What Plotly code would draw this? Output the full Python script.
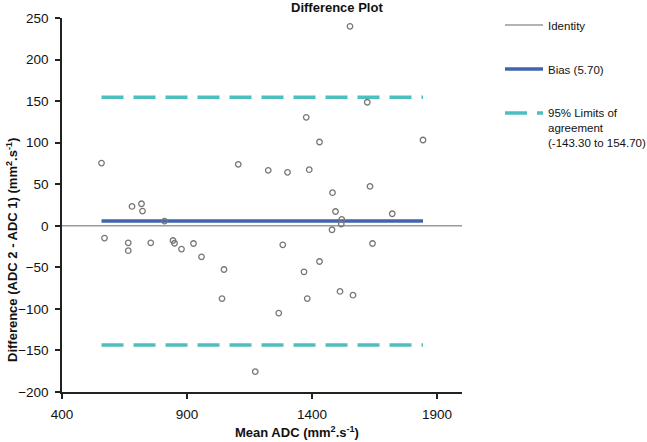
import plotly.graph_objects as go

# ---- data ----
mean_adc = [1552, 1377, 1621, 558, 570, 680, 718, 722, 665, 665, 755, 810, 844, 850,
            878, 926, 958, 1048, 1040, 1105, 1173, 1225, 1267, 1283, 1302, 1368, 1381,
            1389, 1430, 1430, 1482, 1480, 1494, 1519, 1517, 1512, 1564, 1632, 1642,
            1721, 1844]
difference = [240, 130.5, 148.6, 75.5, -14.8, 23.3, 26.5, 17.7, -20.5, -30, -20.5, 5.7,
              -17.7, -21, -28, -21.3, -37.3, -52.6, -87.6, 73.9, -175.5, 66.7, -105,
              -22.9, 64.3, -55.4, -87.6, 67.5, 100.8, -43, 39.8, -4.8, 17.2, 7.6, 2,
              -79, -83.5, 47.4, -21.3, 14.5, 103.2]
bias = 5.70
lower_loa = -143.30
upper_loa = 154.70
x_range = [400, 2000]
y_range = [-200, 250]
x_ticks = [400, 900, 1400, 1900]
y_ticks = [-200, -150, -100, -50, 0, 50, 100, 150, 200, 250]

x_lo, x_hi = min(mean_adc), max(mean_adc)

FONT = "Liberation Sans, Arial, sans-serif"

fig = go.Figure()

fig.add_trace(go.Scatter(
    x=x_range, y=[0, 0], mode="lines", name="Identity",
    line=dict(color="#9a9a9a", width=1.5), legendgroup="a"))
fig.add_trace(go.Scatter(
    x=[x_lo, x_hi], y=[bias, bias], mode="lines", name="Bias (5.70)",
    line=dict(color="#4263ad", width=3.5), legendgroup="b"))
fig.add_trace(go.Scatter(
    x=[x_lo, x_hi], y=[upper_loa, upper_loa], mode="lines",
    name="95% Limits of<br>agreement<br>(-143.30 to 154.70)",
    line=dict(color="#4cc0bf", width=3.5, dash="22px,10px"), legendgroup="c"))
fig.add_trace(go.Scatter(
    x=[x_lo, x_hi], y=[lower_loa, lower_loa], mode="lines", showlegend=False,
    line=dict(color="#4cc0bf", width=3.5, dash="22px,10px"), legendgroup="c"))
fig.add_trace(go.Scatter(
    x=mean_adc, y=difference, mode="markers", showlegend=False,
    marker=dict(symbol="circle-open", size=5.5, color="#777777",
                line=dict(width=1.3, color="#777777"))))

axis_common = dict(showgrid=False, zeroline=False, showline=True, linecolor="#222222",
                   linewidth=1.5, ticks="outside", ticklen=5, tickwidth=1.5,
                   tickcolor="#222222", tickfont=dict(family=FONT, size=13.5, color="#111111"))

fig.update_xaxes(range=x_range, tickvals=x_ticks, ticklabelstandoff=4, **axis_common)
fig.update_yaxes(range=y_range, tickvals=y_ticks, ticklabelstandoff=4, **axis_common)

PH = 374  # plot height in px (18..392)
fig.update_layout(
    width=647, height=442,
    margin=dict(l=62, r=185, t=18, b=50, autoexpand=False),
    paper_bgcolor="white", plot_bgcolor="white",
    font=dict(family=FONT, color="#111111"),
    showlegend=True,
    legend=dict(x=1.095, xanchor="left", y=1 + 7 / PH, yanchor="top",
                valign="top", traceorder="grouped", tracegroupgap=25,
                font=dict(family=FONT, size=11.5, color="#111111"),
                itemwidth=38, bgcolor="rgba(0,0,0,0)"),
    annotations=[
        dict(text="<b>Difference Plot</b>", xref="paper", yref="paper",
             x=(337 - 62) / 400, y=1 + (18 - 8) / PH, xanchor="center", yanchor="middle",
             showarrow=False, font=dict(family=FONT, size=13, color="#111111")),
        dict(text="<b>Mean ADC (mm<sup>2</sup>.s<sup>-1</sup>)</b>", xref="paper", yref="paper",
             x=(297 - 62) / 400, y=-(432 - 392) / PH, xanchor="center", yanchor="middle",
             showarrow=False, font=dict(family=FONT, size=13, color="#111111")),
        dict(text="<b>Difference (ADC 2 - ADC 1) (mm<sup>2</sup>.s<sup>-1</sup>)</b>",
             xref="paper", yref="paper", textangle=-90,
             x=-(62 - 12) / 400, y=(392 - 250) / PH, xanchor="center", yanchor="middle",
             showarrow=False, font=dict(family=FONT, size=13, color="#111111")),
    ],
)

fig.write_html("out.html", config={"displayModeBar": False},
               post_script="document.body.style.margin='0';")
